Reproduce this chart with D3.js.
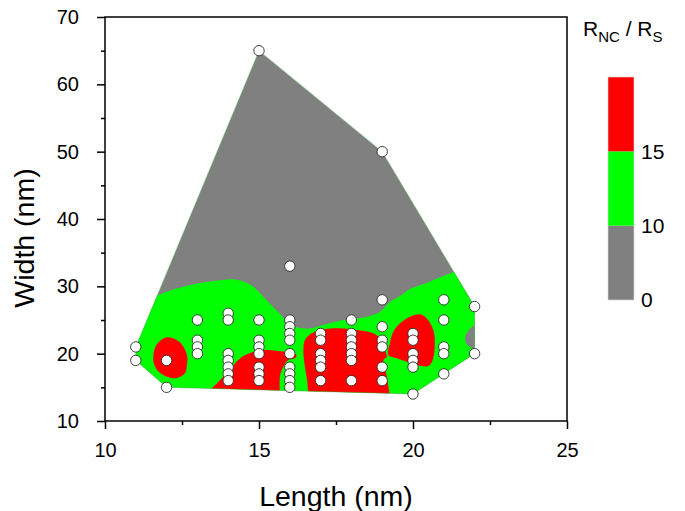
<!DOCTYPE html>
<html>
<head>
<meta charset="utf-8">
<script src="https://cdn.jsdelivr.net/npm/d3@7"></script>
<style>
  html, body { margin: 0; padding: 0; background: #fff; }
  svg { display: block; }
  text { font-family: "Liberation Sans", Arial, sans-serif; fill: #000; }
</style>
</head>
<body>
<svg id="chart" width="685" height="511"></svg>
<script>
// Measured nanostructures: length and width (nm) of each sample
const lengthNm = [
  11, 11,
  12, 12,
  13, 13, 13, 13,
  14, 14, 14, 14, 14, 14, 14,
  15, 15, 15, 15, 15, 15, 15, 15,
  16, 16, 16, 16, 16, 16, 16, 16, 16, 16,
  17, 17, 17, 17, 17, 17,
  18, 18, 18, 18, 18, 18, 18,
  19, 19, 19, 19, 19, 19, 19,
  20, 20, 20, 20, 20, 20,
  21, 21, 21, 21, 21,
  22, 22
];
const widthNm = [
  21, 19,
  19, 15,
  25, 22, 21, 20,
  26, 25, 20, 19, 18, 17, 16,
  65, 25, 22, 21, 20, 18, 17, 16,
  33, 25, 24, 23, 22, 20, 18, 17, 16, 15,
  23, 22, 20, 19, 18, 16,
  25, 23, 22, 21, 20, 19, 16,
  50, 28, 24, 22, 21, 18, 16,
  23, 22, 20, 19, 18, 14,
  28, 25, 21, 20, 17,
  27, 20
];

// Contour edges of R_NC / R_S, as [length, width] vertices
// R = 10 level: upper edge of the green band
const contour10Edge = [
  [11.3, 28.0], [11.62, 28.46], [12.0, 29.2], [12.53, 29.94], [13.08, 30.49],
  [13.63, 30.83], [14.16, 31.04], [14.71, 30.27], [15.03, 29.01], [15.36, 27.37],
  [15.68, 25.89], [16.01, 24.4], [16.33, 23.81], [16.66, 23.73], [17.08, 24.26],
  [17.63, 24.89], [18.12, 25.22], [18.51, 25.49], [18.93, 26.23], [19.25, 27.67],
  [19.58, 28.56], [19.9, 29.6], [20.49, 30.57], [20.88, 31.34], [21.33, 32.13],
  [21.7, 32.6]
];
const contour10Close = [[23, 32.6], [23, 9], [9, 9], [9, 28.0]];

// R = 10 level: small low pocket on the right edge
const contourLowRight = [
  [22.4, 24.6], [22.0, 24.26], [21.82, 23.51], [21.69, 22.47], [21.72, 21.58],
  [21.85, 20.99], [22.0, 20.69], [22.4, 20.4]
];

// R = 15 level: closed island near (12, 19)
const contour15A = [
  [12.0, 22.43], [12.33, 22.03], [12.53, 21.14], [12.67, 19.65], [12.66, 18.31],
  [12.6, 17.13], [12.34, 16.38], [12.05, 16.53], [11.75, 17.28], [11.59, 18.46],
  [11.57, 19.55], [11.62, 20.84], [11.75, 21.73]
];
// R = 15 level: lobe resting on the lower edge, length 13.5 - 15.7
const contour15BEdge = [
  [13.35, 14.5], [13.46, 14.85], [13.95, 17.08], [14.38, 19.3], [14.71, 20.1],
  [15.14, 20.54], [15.57, 20.44], [16.01, 20.14], [16.22, 19.8], [16.17, 19.31],
  [15.95, 19.06], [15.79, 18.06], [15.68, 16.58], [15.68, 14.3]
];
const contour15BClose = [[15.68, 12], [13.35, 12]];
// R = 15 level: lobe resting on the lower edge, length 16.5 - 19.2
const contour15CEdge = [
  [16.6, 14.0], [16.56, 16.09], [16.49, 18.06], [16.44, 20.54], [16.49, 22.03],
  [16.71, 23.02], [16.98, 23.51], [17.31, 23.74], [17.74, 23.74], [18.17, 23.51],
  [18.71, 23.02], [18.98, 22.03], [19.09, 20.54], [19.15, 19.55], [19.04, 19.06],
  [19.09, 17.87], [19.15, 16.58], [19.23, 14.35], [19.25, 13.8]
];
const contour15CClose = [[19.25, 12], [16.6, 12]];
// R = 15 level: closed island near (20, 22)
const contour15D = [
  [19.2, 19.8], [19.25, 21.54], [19.36, 23.26], [19.58, 24.51], [19.9, 25.49],
  [20.23, 25.84], [20.44, 25.25], [20.66, 23.51], [20.71, 21.54], [20.64, 19.06],
  [20.5, 18.17], [20.12, 18.31], [19.8, 18.8], [19.47, 19.31]
];

// Axis ticks and colour levels
const xMajorTicks = [10, 15, 20, 25];
const xMinorTicks = [12.5, 17.5, 22.5];
const yMajorTicks = [10, 20, 30, 40, 50, 60, 70];
const yMinorTicks = [15, 25, 35, 45, 55, 65];
const levelValues = [0, 10, 15, 20];
const levelLabels = ["0", "10", "15"];
const levelColors = ["#808080", "#00ff00", "#ff0000"];

const svg = d3.select("#chart");
const x = d3.scaleLinear().domain([10, 25]).range([105, 567]);
const y = d3.scaleLinear().domain([10, 70]).range([421, 17]);

const pts = lengthNm.map((l, i) => [l, widthNm[i]]);
const hull = d3.polygonHull(pts);

const px = p => [x(p[0]), y(p[1])];
const hullPath = "M" + hull.map(p => px(p).join(",")).join("L") + "Z";

svg.append("clipPath").attr("id", "hullClip")
  .append("path").attr("d", hullPath);

const smoothOpen = d3.line().x(d => x(d[0])).y(d => y(d[1])).curve(d3.curveCatmullRom.alpha(0.5));
const smoothClosed = d3.line().x(d => x(d[0])).y(d => y(d[1])).curve(d3.curveCatmullRomClosed.alpha(0.5));
const withClose = (edge, close) =>
  smoothOpen(edge) + close.map(p => "L" + px(p).join(",")).join("") + "Z";

const field = svg.append("g").attr("clip-path", "url(#hullClip)");

// Below 10
field.append("path").attr("d", hullPath).attr("fill", levelColors[0]);
// 10 - 15
field.append("path").attr("d", withClose(contour10Edge, contour10Close)).attr("fill", levelColors[1]);
field.append("path").attr("d", smoothOpen(contourLowRight) + "Z").attr("fill", levelColors[0]);
// Above 15
field.append("path").attr("d", smoothClosed(contour15A)).attr("fill", levelColors[2]);
field.append("path").attr("d", withClose(contour15BEdge, contour15BClose)).attr("fill", levelColors[2]);
field.append("path").attr("d", withClose(contour15CEdge, contour15CClose)).attr("fill", levelColors[2]);
field.append("path").attr("d", smoothClosed(contour15D)).attr("fill", levelColors[2]);

// Hull outline
svg.append("path").attr("d", hullPath)
  .attr("fill", "none").attr("stroke", "rgba(60,170,60,0.55)").attr("stroke-width", 0.8);

// Axes
const axisStyle = g => {
  g.select(".domain").remove();
  g.selectAll(".tick line").attr("stroke", "#000").attr("stroke-width", 1.5);
  g.selectAll(".tick text").style("font-size", "20px").attr("fill", "#000");
};
svg.append("g").attr("transform", "translate(0,421)")
  .call(d3.axisBottom(x).tickValues(xMajorTicks).tickSize(8).tickPadding(14).tickFormat(d3.format("d")))
  .call(axisStyle);
svg.append("g").attr("transform", "translate(0,421)")
  .call(d3.axisBottom(x).tickValues(xMinorTicks).tickSize(4).tickFormat(""))
  .call(axisStyle);
svg.append("g").attr("transform", "translate(105,0)")
  .call(d3.axisLeft(y).tickValues(yMajorTicks).tickSize(8).tickPadding(18).tickFormat(d3.format("d")))
  .call(axisStyle);
svg.append("g").attr("transform", "translate(105,0)")
  .call(d3.axisLeft(y).tickValues(yMinorTicks).tickSize(4).tickFormat(""))
  .call(axisStyle);

// Frame
svg.append("rect")
  .attr("x", x(10)).attr("y", y(70))
  .attr("width", x(25) - x(10)).attr("height", y(10) - y(70))
  .attr("fill", "none").attr("stroke", "#000").attr("stroke-width", 1.5);

// Sample points
svg.append("g").selectAll("circle").data(pts).join("circle")
  .attr("cx", d => x(d[0])).attr("cy", d => y(d[1])).attr("r", 5.2)
  .attr("fill", "#fff").attr("stroke", "#2a2a2a").attr("stroke-width", 0.9);

// Axis titles
svg.append("text").attr("x", 336).attr("y", 506)
  .attr("text-anchor", "middle").style("font-size", "28.5px").text("Length (nm)");
svg.append("text").attr("transform", "translate(34,238) rotate(-90)")
  .attr("text-anchor", "middle").style("font-size", "28.5px").text("Width (nm)");

// Colour key
const keyY = d3.scalePoint().domain(levelValues).range([300, 77]);
const key = svg.append("g");
levelColors.forEach((c, i) => {
  const y0 = keyY(levelValues[i]);
  const y1 = keyY(levelValues[i + 1]);
  key.append("rect").attr("x", 608).attr("y", y1).attr("width", 26).attr("height", y0 - y1)
    .attr("fill", c);
});
key.append("rect").attr("x", 608).attr("y", keyY(20)).attr("width", 26)
  .attr("height", keyY(0) - keyY(20)).attr("fill", "none")
  .attr("stroke", "#d8d8d8").attr("stroke-width", 0.6);
key.selectAll("text.lvl").data(levelLabels).join("text").attr("class", "lvl")
  .attr("x", 641).attr("y", d => keyY(+d)).attr("dy", "0.35em")
  .style("font-size", "21px").text(d => d);

const title = svg.append("text").attr("x", 583).attr("y", 36).style("font-size", "21px");
title.append("tspan").text("R");
title.append("tspan").attr("dy", 6).style("font-size", "15px").text("NC");
title.append("tspan").attr("dy", -6).text(" / R");
title.append("tspan").attr("dy", 6).style("font-size", "15px").text("S");
</script>
</body>
</html>
